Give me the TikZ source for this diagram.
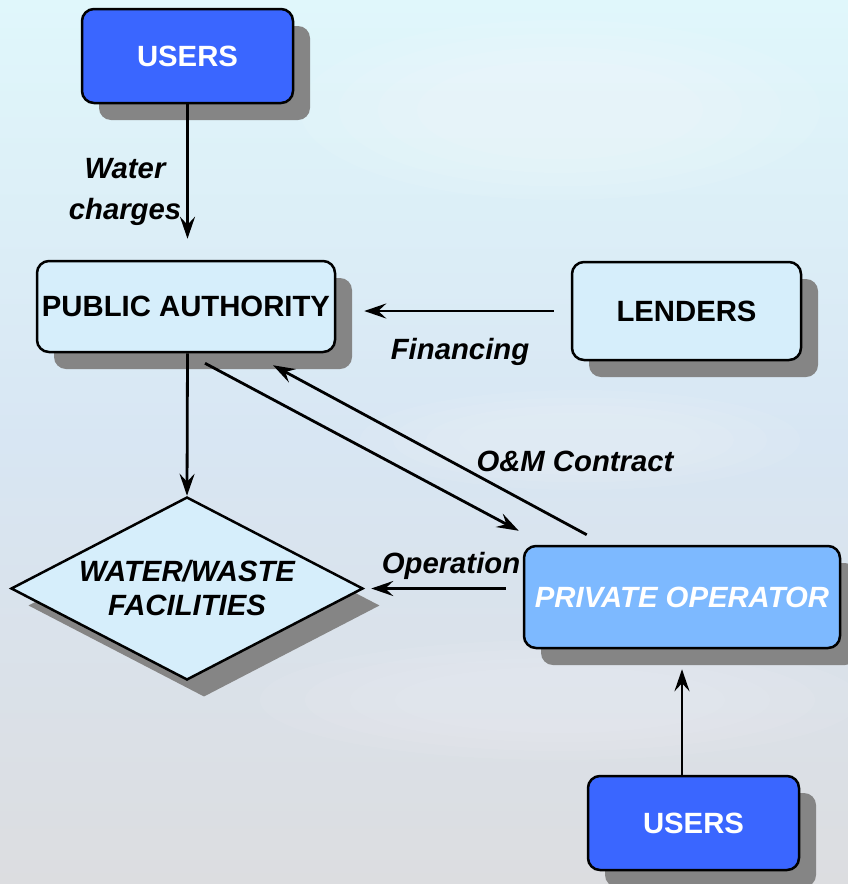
\documentclass[tikz,border=0pt]{standalone}
\usepackage{fontspec}
\setmainfont{Liberation Sans}
\usetikzlibrary{shapes.geometric,arrows.meta,shadows}
\definecolor{bgtop}{HTML}{E0F7FB}
\definecolor{bgmid}{HTML}{D8E6F3}
\definecolor{bgbot}{HTML}{DCDDE0}
\definecolor{darkbox}{HTML}{3A66FF}
\definecolor{lightbox}{HTML}{D6EEFB}
\definecolor{midbox}{HTML}{7DB9FF}
\definecolor{shadowgray}{HTML}{858585}
\tikzset{
  sh/.style={drop shadow={shadow xshift=17pt,shadow yshift=-17pt,fill=shadowgray,opacity=1}},
  boxbase/.style={draw=black,line width=2.5pt,rounded corners=12pt,sh,align=center,
    font=\fontsize{29.3}{34}\selectfont\bfseries},
  userbox/.style={boxbase,fill=darkbox,text=white,minimum width=211pt,minimum height=94pt},
  lightnode/.style={boxbase,fill=lightbox,text=black},
  opbox/.style={boxbase,fill=midbox,text=white,font=\fontsize{29.3}{34}\selectfont\bfseries\itshape},
  facil/.style={diamond,draw=black,line width=2.5pt,fill=lightbox,sh,aspect=1.92,
    minimum width=352pt,minimum height=183pt,inner sep=0pt,align=center,
    font=\fontsize{29.3}{34}\selectfont\bfseries\itshape},
  arr/.style={line width=2.8pt,-{Stealth[length=22pt,width=15pt,inset=8pt]}},
  lab/.style={font=\fontsize{29.3}{41}\selectfont\bfseries\itshape,align=center,inner sep=0pt}
}
\begin{document}
\begin{tikzpicture}[x=1pt,y=-1pt]
\useasboundingbox (0,0) rectangle (848,884);
\fill[top color=bgtop,bottom color=bgbot,middle color=bgmid] (0,0) rectangle (848,884);
\begin{scope}
\clip (0,0) rectangle (848,884);
\foreach \r in {1,0.85,0.7,0.55}{
  \fill[white,opacity=0.08] (560,110) ellipse ({260*\r} and {90*\r});
  \fill[white,opacity=0.06] (560,700) ellipse ({300*\r} and {60*\r});
  \fill[white,opacity=0.06] (580,440) ellipse ({220*\r} and {50*\r});
}
\end{scope}

\node[userbox] (users1) at (187.5,56) {USERS};
\node[lightnode,minimum width=298pt,minimum height=91pt] (pa) at (186,306.5) {PUBLIC AUTHORITY};
\node[lightnode,minimum width=229pt,minimum height=98pt] (lenders) at (686.5,311) {LENDERS};
\node[facil] (fac) at (187,588.5) {WATER/WASTE\\FACILITIES};
\node[opbox,minimum width=316pt,minimum height=102pt] (po) at (682,597) {PRIVATE OPERATOR};
\node[userbox] (users2) at (693.5,823) {USERS};

\draw[arr,shorten >=21pt] (users1.south) -- (users1.south |- pa.north);
\draw[arr,shorten <=17pt,shorten >=28pt] (lenders.west) -- (lenders.west -| pa.east);
\draw[arr] (users1.south |- pa.south) -- (fac.north);
\draw[arr] ([xshift=19pt,yshift=-10pt]pa.south) -- ([xshift=-4pt,yshift=14pt]po.north west);
\draw[arr] ([xshift=64pt,yshift=10pt]po.north west) -- ([xshift=87pt,yshift=-12pt]pa.south);
\draw[arr,shorten <=17pt,shorten >=7pt] (po.west |- fac.east) -- (fac.east);
\draw[arr,shorten >=20pt] (users2.north -| po.south) -- (po.south);

\node[lab] (lwater) at (125,192) {Water\\charges};
\node[lab] (lfin) at (460,352) {Financing};
\node[lab] (lom) at (575,461) {O\&M Contract};
\node[lab] (lop) at (451,566) {Operation};
\end{tikzpicture}
\end{document}
